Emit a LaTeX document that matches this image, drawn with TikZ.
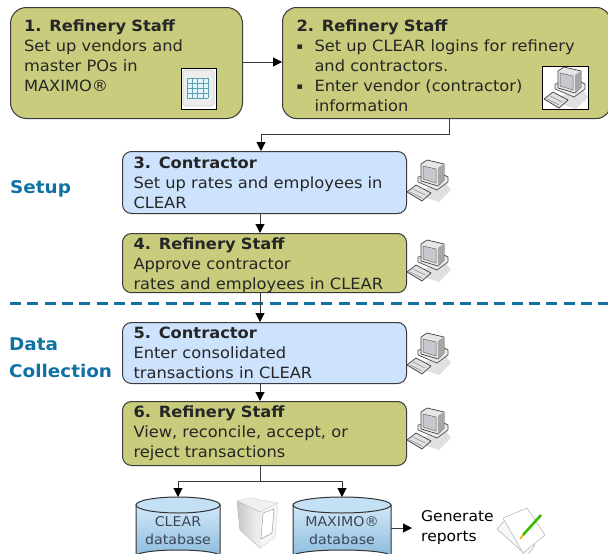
\documentclass[tikz,border=0pt]{standalone}
\usepackage{fontspec}
\setmainfont{DejaVu Sans}[FakeStretch=1.05]
\usetikzlibrary{arrows.meta,calc}
\definecolor{olive}{HTML}{C9CC7C}
\definecolor{paleblue}{HTML}{CDE2FC}
\definecolor{edgegray}{HTML}{3A3A3A}
\definecolor{headblue}{HTML}{0F72A2}
\definecolor{dbtop}{HTML}{C4E0F4}
\definecolor{dbhigh}{HTML}{D2E8F8}
\definecolor{dblow}{HTML}{8DBCDD}
\definecolor{dbtext}{HTML}{3C4658}
\definecolor{gridteal}{HTML}{5F9FB0}
\newcommand{\sqbul}{\makebox[18pt][l]{\raisebox{2pt}{\fontsize{9}{9}\selectfont ▪}}}
\tikzset{
  x=1pt,y=-1pt,
  flowbox/.style={draw=edgegray,line width=1pt,anchor=north west,align=left,inner xsep=0pt,inner ysep=0pt,
    font=\fontsize{15.5}{20}\selectfont,text=black!85},
  olivebox/.style={flowbox,fill=olive},
  bluebox/.style={flowbox,fill=paleblue},
  link/.style={draw=edgegray,line width=1pt,-{Triangle[length=9pt,width=9pt,color=black]}},
  plainlink/.style={draw=edgegray,line width=1pt},
  sidehead/.style={anchor=west,text=headblue,inner xsep=0pt,font=\fontsize{17.5}{20}\selectfont\bfseries},
  dblabel/.style={align=center,text=dbtext,font=\fontsize{13.5}{18}\selectfont},
  computer/.pic={
    \fill[black!12] (5,33) -- (32,42) -- (44,30) -- (38,22) -- cycle;
    \filldraw[draw=black!70,fill=black!8,line width=.7pt,line join=round] (11,22) -- (30,30) -- (41,22) -- (41,17) -- (35,14) -- (11,17) -- cycle;
    \filldraw[draw=black!75,fill=black!10,line width=.7pt,line join=round] (14,4) -- (20,0) -- (37,4) -- (37,20) -- (31,26) -- (14,21) -- cycle;
    \fill[black!35] (31,26) -- (37,20) -- (37,4) -- (31,8) -- cycle;
    \filldraw[draw=black!60,fill=blue!15!black!22,line width=.5pt] (16,6) -- (29,9) -- (29,23) -- (16,19) -- cycle;
    \filldraw[draw=black!75,fill=black!12,line width=.7pt,line join=round] (0,32) -- (9,25) -- (24,33) -- (15,41) -- cycle;
    \draw[black!45,line width=.5pt] (3,32) -- (15,38) (6,29) -- (18,35);
  },
}
\begin{document}
\begin{tikzpicture}
\clip (0,0) rectangle (608,554);
\fill[white] (0,0) rectangle (608,554);

% section divider and side headings
\draw[headblue,line width=2.4pt,dash pattern=on 11pt off 6.3pt] (10,303.5) -- (608,303.5);
\node[sidehead] (setup) at (10,189) {Setup};
\node[sidehead] (datahead) at (9,344) {Data};
\node[sidehead] (collhead) at (9,371) {Collection};

% flow boxes
\node[olivebox,rounded corners=16pt,minimum width=230pt,minimum height=111pt,text width=205pt,inner xsep=13.5pt] (b1) at (10,7)
 {{\bfseries 1. Refinery Staff}\\Set up vendors and\\master POs in\\MAXIMO®\\[-12pt]\strut};
\node[olivebox,rounded corners=14pt,minimum width=327pt,minimum height=111pt,text width=300pt,inner xsep=14pt] (b2) at (282,7)
 {\rule{0pt}{17pt}{\bfseries 2. Refinery Staff}\\
  \sqbul Set up CLEAR logins for refinery\\
  \hspace*{18pt}and contractors.\\
  \sqbul Enter vendor (contractor)\\
  \hspace*{18pt}information};
\node[bluebox,rounded corners=9pt,minimum width=278pt,minimum height=62pt,text width=262pt,inner xsep=11pt] (b3) at (122,151)
 {{\bfseries 3. Contractor}\\Set up rates and employees in\\CLEAR};
\node[olivebox,rounded corners=9pt,minimum width=278pt,minimum height=59pt,text width=262pt,inner xsep=11pt] (b4) at (122,233)
 {\rule{0pt}{16pt}{\bfseries 4. Refinery Staff}\\Approve contractor\\rates and employees in CLEAR};
\node[bluebox,rounded corners=9pt,minimum width=278pt,minimum height=61pt,text width=262pt,inner xsep=11pt] (b5) at (122,322)
 {{\bfseries 5. Contractor}\\Enter consolidated\\transactions in CLEAR};
\node[olivebox,rounded corners=9pt,minimum width=278pt,minimum height=64pt,text width=262pt,inner xsep=11pt] (b6) at (122,401)
 {{\bfseries 6. Refinery Staff}\\View, reconcile, accept, or\\reject transactions};

% databases
\foreach \nm/\xa/\xb/\lab in {clear/136/220/{CLEAR\\database},maximo/293/391/{MAXIMO®\\database}}{
  \path[top color=dbhigh,bottom color=dblow,draw=black!80,line width=1pt]
    (\xa,505) -- (\xa,556) arc[start angle=180,end angle=360,x radius={(\xb-\xa)/2},y radius=6] -- (\xb,505) -- cycle;
  \path[fill=dbtop,draw=black!80,line width=1pt]
    ({(\xa+\xb)/2},505) ellipse[x radius={(\xb-\xa)/2},y radius=8];
  \node[dblabel] (\nm) at ({(\xa+\xb)/2},531) {\lab};
}
\coordinate (clrtop) at (178,497);
\coordinate (maxtop) at (342,497);
\coordinate (split) at (260,481);
\coordinate (maxout) at (391,528);
\coordinate (repin) at (412,528);

% report label
\node[anchor=west,align=left,text=black,inner xsep=0pt,font=\fontsize{14.8}{20}\selectfont] (report) at (421,528) {Generate\\reports};

% connectors
\draw[link] (b1.east |- 0,62) -- (b2.west |- 0,62);
\draw[link] (449,118) |- (261,134) -- (b3.north -| 261,0);
\draw[link] (b3.south -| 260,0) -- (b4.north -| 260,0);
\draw[link] (b4.south -| 260,0) -- (b5.north -| 260,0);
\draw[link] (b5.south -| 260,0) -- (b6.north -| 260,0);
\draw[plainlink] (b6.south -| 260,0) -- (split);
\draw[link] (split) -| (clrtop);
\draw[link] (split) -| (maxtop);
\draw[link] (maxout) -- (repin);

% spreadsheet icon
\begin{scope}[shift={(181,68)}]
  \filldraw[draw=black,fill=white,line width=.8pt] (0,0) rectangle (35,41);
  \filldraw[draw=black!20,fill=black!7,rounded corners=3pt,line width=.6pt] (2,2) rectangle (33,38);
  \fill[cyan!12] (6,10) rectangle (27,30);
  \foreach \gx in {6,11.25,16.5,21.75,27}{\draw[gridteal,line width=.5pt] (\gx,10) -- (\gx,30);}
  \foreach \gy in {10,15,20,25,30}{\draw[gridteal,line width=.5pt] (6,\gy) -- (27,\gy);}
\end{scope}

% computers
\filldraw[draw=black,fill=white,line width=.8pt] (542,66) rectangle (588,109);
\pic at (544,67) {computer};
\pic at (407,160) {computer};
\pic at (407,240) {computer};
\pic at (407,333) {computer};
\pic at (407,408) {computer};

% server
\begin{scope}[line join=round,line width=.4pt,draw=black!18]
  \filldraw[fill=black!6] (237,501) -- (250,498) -- (278,503) -- (260,512) -- cycle;
  \filldraw[left color=black!22,right color=black!5] (237,501) -- (260,512) -- (260,548) -- (240,530) -- cycle;
  \filldraw[fill=black!4] (260,512) -- (278,503) -- (275,537) -- (260,548) -- cycle;
  \filldraw[draw=black!45,fill=white] (263,513) -- (274,509) -- (272,533) -- (261,539) -- cycle;
\end{scope}

% notes with pencil
\begin{scope}[line join=round,line width=.5pt]
  \filldraw[draw=black!30,fill=black!3] (497,529) -- (505,520) -- (535,545) -- (527,556) -- cycle;
  \filldraw[draw=black!30,fill=white] (503,518) -- (527,508) -- (545,535) -- (523,553) -- cycle;
  \draw[green!60!lime!75!black,line width=2.6pt] (541,515) -- (523,535);
  \draw[orange!70!yellow,line width=1.6pt] (523,535) -- (520,539);
\end{scope}
\end{tikzpicture}
\end{document}
